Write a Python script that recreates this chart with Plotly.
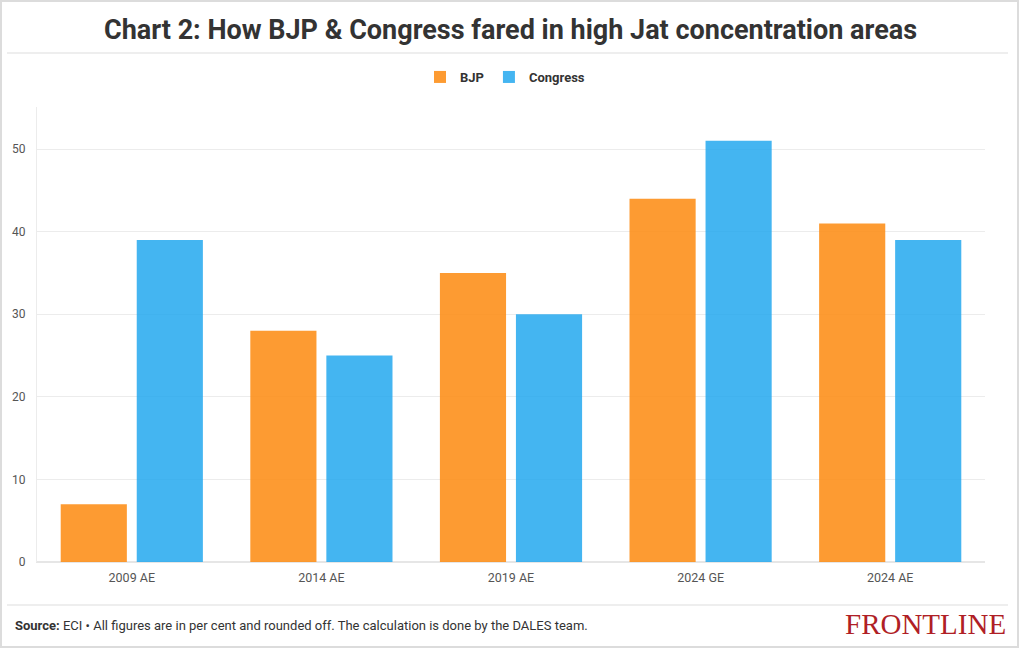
import plotly.graph_objects as go

categories = ["2009 AE", "2014 AE", "2019 AE", "2024 GE", "2024 AE"]
bjp = [7, 28, 35, 44, 41]
congress = [39, 25, 30, 51, 39]
y_ticks = [0, 10, 20, 30, 40, 50]

W, H = 1020, 650
L, R, T, B = 37, 35, 107, 88
pw, ph = W - L - R, H - T - B

def px(x):
    return (x - L) / pw

def py(y):
    return (H - B - y) / ph

FONT = "Roboto, sans-serif"

fig = go.Figure()
fig.add_trace(go.Bar(name="BJP", x=categories, y=bjp,
                     marker=dict(color="rgba(253,140,20,0.87)", line=dict(width=0)),
                     hoverinfo="y"))
fig.add_trace(go.Bar(name="Congress", x=categories, y=congress,
                     marker=dict(color="rgba(30,166,238,0.83)", line=dict(width=0)),
                     hoverinfo="y"))

shapes = [
    dict(type="rect", xref="paper", yref="paper", x0=px(1), x1=px(1018), y0=py(647), y1=py(1),
         line=dict(color="#dcdcdc", width=2), fillcolor="rgba(0,0,0,0)", layer="below"),
    dict(type="line", xref="paper", yref="paper", x0=px(7), x1=px(1008), y0=py(53), y1=py(53),
         line=dict(color="#dddddd", width=1)),
    dict(type="line", xref="paper", yref="paper", x0=px(7), x1=px(1008), y0=py(605), y1=py(605),
         line=dict(color="#dddddd", width=1)),
]

annotations = [
    dict(text="<b>Chart 2: How BJP &amp; Congress fared in high Jat concentration areas</b>",
         xref="paper", yref="paper", x=px(510), y=py(30), xanchor="center", yanchor="middle",
         showarrow=False, font=dict(family=FONT, size=27, color="#333333")),
    dict(text="<b>Source:</b> ECI • All figures are in per cent and rounded off. The calculation is done by the DALES team.",
         xref="paper", yref="paper", x=px(13), y=py(625), xanchor="left", yanchor="middle",
         showarrow=False, font=dict(family=FONT, size=13, color="#333333")),
    dict(text="FRONTLINE",
         xref="paper", yref="paper", x=px(1008), y=py(624), xanchor="right", yanchor="middle",
         showarrow=False, font=dict(family="Liberation Serif, DejaVu Serif, serif", size=29, color="#b01f26")),
]

fig.update_layout(
    width=W, height=H,
    margin=dict(l=L, r=R, t=T, b=B, autoexpand=False),
    paper_bgcolor="white", plot_bgcolor="white",
    barmode="group", bargap=0.198, bargroupgap=0.13,
    showlegend=True,
    legend=dict(orientation="h", x=px(505), y=py(77), xanchor="center", yanchor="middle",
                font=dict(family=FONT, size=13, color="#333333", weight="bold"),
                itemwidth=30, tracegroupgap=0, traceorder="normal"),
    font=dict(family=FONT, color="#555555"),
    shapes=shapes, annotations=annotations,
    xaxis=dict(showgrid=False, showline=True, linecolor="#e6e6e6", linewidth=1,
               tickfont=dict(family=FONT, size=12.5, color="#555555"), ticks="", ticklabelstandoff=4,
               fixedrange=True),
    yaxis=dict(range=[0, 55.1], tickvals=y_ticks, showgrid=True, gridcolor="#ececec", gridwidth=1,
               zeroline=True, zerolinecolor="#e6e6e6", showline=True, linecolor="#ececec",
               tickfont=dict(family=FONT, size=12, color="#555555"), ticks="", ticklabelstandoff=8,
               fixedrange=True),
)

fig.write_html("out.html", config={"displayModeBar": False},
               post_script="document.body.style.margin='0';document.body.style.padding='0';")
